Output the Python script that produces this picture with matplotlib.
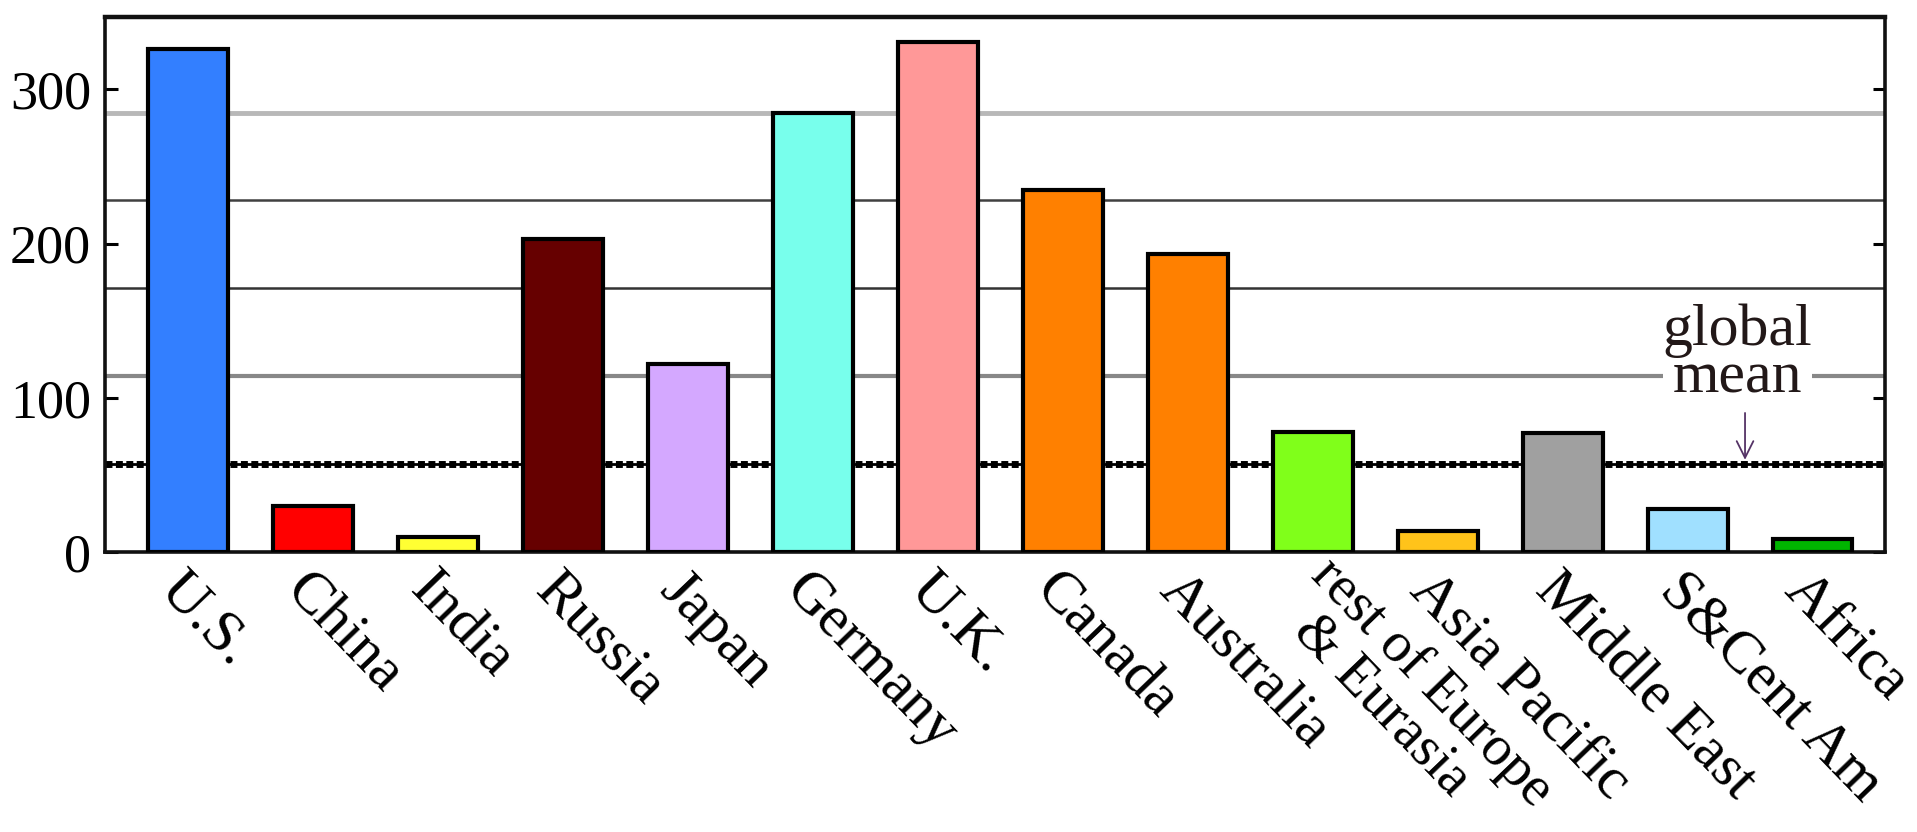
import matplotlib
matplotlib.use("Agg")
import matplotlib.pyplot as plt
import matplotlib.transforms as mtransforms

categories = ["U.S.", "China", "India", "Russia", "Japan", "Germany", "U.K.",
              "Canada", "Australia", "rest of Europe\n& Eurasia", "Asia Pacific",
              "Middle East", "S&Cent Am", "Africa"]
values = [326, 30, 10, 203, 122, 285, 331, 235, 193, 78, 13.5, 77, 28, 8.5]
colors = ["#337fff", "#ff0000", "#ffff33", "#660000", "#d4a8ff", "#78ffec", "#ff9898",
          "#ff8000", "#ff8000", "#80ff1a", "#ffc31a", "#a0a0a0", "#a0e0ff", "#00b400"]
global_mean = 57
yticks = [0, 100, 200, 300]
multiples = [2, 3, 4, 5]
grid_colors = ["#888888", "#333333", "#404040", "#b8b8b8"]
grid_widths = [3.0, 1.8, 1.8, 3.5]

plt.rcParams['font.family'] = ['Liberation Serif', 'DejaVu Serif']

fig = plt.figure(figsize=(19.17, 8.32), dpi=100)
ax = fig.add_axes([0.0548, 0.3365, 0.9285, 0.6431])

x = list(range(len(categories)))

for m, c, w in zip(multiples, grid_colors, grid_widths):
    ax.axhline(global_mean * m, color=c, lw=w, zorder=1)

ax.axhline(global_mean, color='black', lw=2.0, zorder=1.5)
ax.axhline(global_mean, color='black', lw=5, linestyle=(0, (1.0, 0.5)), zorder=1.6)

ax.bar(x, values, width=0.64, color=colors, edgecolor='black', linewidth=3.0, zorder=3)

ax.set_xlim(-0.664, 13.58)
ax.set_ylim(0, 347)
ax.set_yticks(yticks)
ax.set_yticklabels([str(v) for v in yticks], fontsize=39)
ax.tick_params(axis='y', direction='in', length=9, width=2.2, pad=10,
               left=True, right=True, colors='black')

# first line of each category as the tick label; extra lines drawn beneath
first_lines = [c.split("\n")[0] for c in categories]
ax.set_xticks(x)
ax.set_xticklabels(first_lines, fontsize=43, rotation=-46, ha='left', va='top',
                   rotation_mode='anchor')
ax.tick_params(axis='x', length=0, pad=8)

for i, (lab, cat) in enumerate(zip(ax.get_xticklabels(), categories)):
    if "\n" in cat:
        lab.set_fontsize(41)
        lab.set_transform(lab.get_transform() +
                          mtransforms.ScaledTranslation(0.26, 0.14, fig.dpi_scale_trans))
        for k, extra in enumerate(cat.split("\n")[1:], start=1):
            ax.annotate(extra, xy=(i, 0), xycoords=('data', 'axes fraction'),
                        xytext=(6 * k, -38 * k), textcoords='offset points',
                        fontsize=41, rotation=-46, ha='left', va='top',
                        rotation_mode='anchor', annotation_clip=False)

for s in ax.spines.values():
    s.set_linewidth(2.6)
    s.set_color('#111111')
ax.spines['top'].set_linewidth(3.2)

ax.text(12.4, 128, "global\nmean", fontsize=43, ha='center', va='center',
        color='#221818', linespacing=0.85, zorder=4,
        bbox=dict(facecolor='white', edgecolor='none', pad=0))
ax.annotate("", xy=(12.46, global_mean + 1), xytext=(12.46, 92),
            arrowprops=dict(arrowstyle='->', color='#553366', lw=1.3,
                            mutation_scale=30), zorder=4)

fig.savefig("out.png", dpi=100)
